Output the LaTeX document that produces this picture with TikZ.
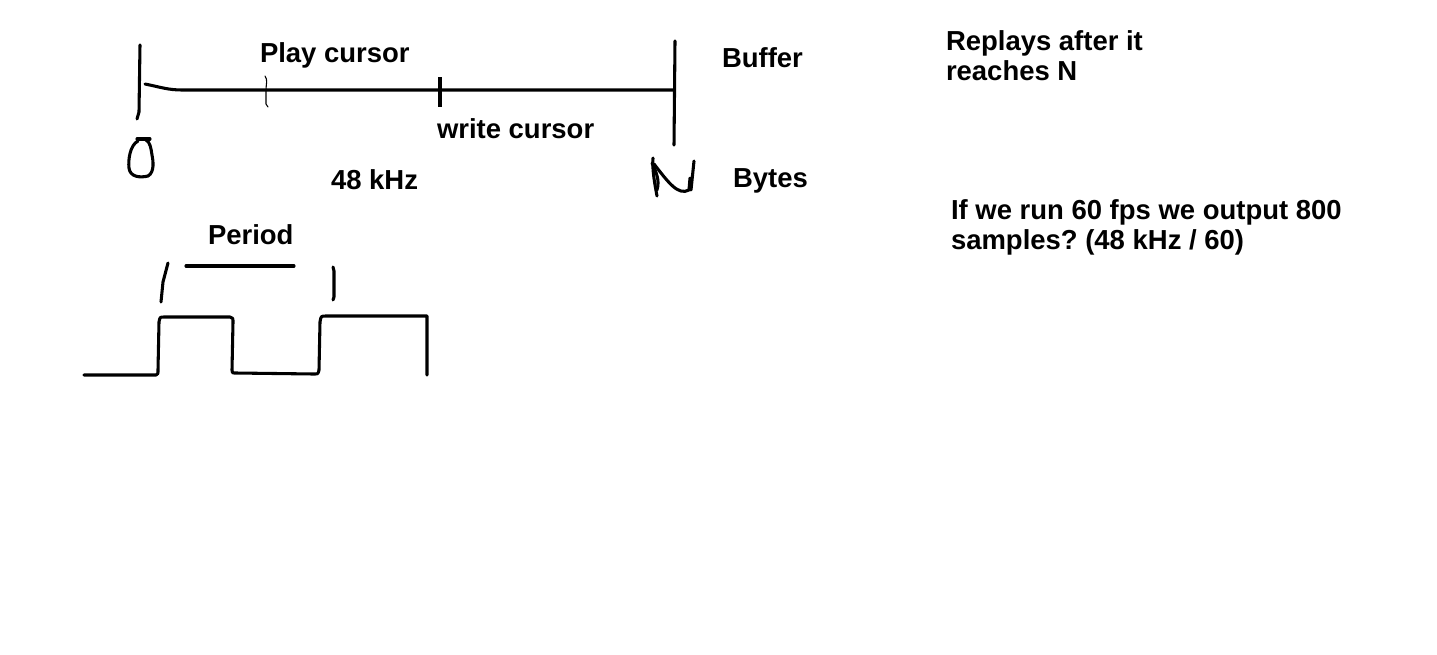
\documentclass[tikz,border=0pt]{standalone}
\usepackage{fontspec}
\setmainfont{Liberation Sans}
\frenchspacing
\begin{document}
\begin{tikzpicture}[x=0.75pt,y=-0.75pt,
  pen/.style={line width=2.3pt,line cap=round,line join=round},
  thinpen/.style={line width=0.8pt,line cap=round},
  lbl/.style={anchor=base west,inner sep=0pt,outer sep=0pt,font=\bfseries\fontsize{20.6}{24}\selectfont}]
\fill[white] (0,0) rectangle (1437,654);
\useasboundingbox (0,0) rectangle (1437,654);

% buffer line
\draw[pen] (140,45) -- (139,112) -- (137,119);
\draw[pen] (145,84) .. controls (160,87) and (168,90) .. (182,90) -- (674,90);
\draw[pen] (675,41) -- (674,145);
\draw[thinpen] (265,76) .. controls (268,80) and (266,84) .. (266,90) -- (266,104) -- (268,107);
\draw[line width=3pt] (440,77) -- (440,107);

% handwritten 0
\draw[pen] (137,139) -- (150,139);
\draw[pen] (138,141) .. controls (130,145) and (128,160) .. (129,168)
  .. controls (130,177) and (140,178) .. (148,176)
  .. controls (155,172) and (153,160) .. (152,155)
  .. controls (151,148) and (150,142) .. (146,140);

% handwritten N
\draw[pen] (653,158) .. controls (652,170) and (655,185) .. (657,196);
\draw[pen] (652,163) .. controls (656,172) and (660,180) .. (657,190);
\draw[pen] (654,164) .. controls (668,182) and (678,196) .. (689,190) -- (690,178);
\draw[pen] (694,161) -- (691,190);

% square wave
\draw[pen] (84,375) -- (156,375) .. controls (158,374) .. (158,370) -- (159,322)
  .. controls (160,317) .. (164,317) -- (230,317) .. controls (233,318) .. (233,322)
  -- (232,370) .. controls (232,373) .. (236,373) -- (314,374) .. controls (318,374) .. (319,370)
  -- (320,322) .. controls (321,316) .. (326,316) -- (427,316) -- (427,375);

% period bracket
\draw[pen] (168,263) -- (163,282) -- (161,302);
\draw[pen] (186,266) -- (294,266);
\draw[pen] (333,267) -- (334,271) -- (334,297) -- (333,300);

% labels
\node[lbl] (play) at (260,62) {Play cursor};
\node[lbl] (write) at (437,138) {write cursor};
\node[lbl] (buffer) at (722,67) {Buffer};
\node[lbl] (khz) at (331,189) {48 kHz};
\node[lbl] (bytes) at (733,187) {Bytes};
\node[lbl] (period) at (208,244) {Period};
\node[lbl] (rep1) at (946,50) {Replays after it};
\node[lbl] (rep2) at (946,80) {reaches N};
\node[lbl] (if1) at (951,219) {If we run 60 fps we output 800};
\node[lbl] (if2) at (951,249) {samples? (48 kHz / 60)};
\end{tikzpicture}
\end{document}
